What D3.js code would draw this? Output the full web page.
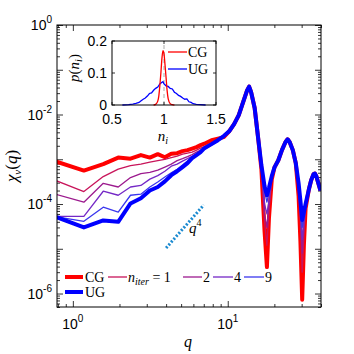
<!DOCTYPE html>
<html>
<head>
<meta charset="utf-8">
<script src="https://cdn.jsdelivr.net/npm/d3@7"></script>
<style>
  body { margin: 0; background: #fff; }
  text { fill: #000; }
</style>
</head>
<body>
<div id="chart"></div>
<script>
// wavenumbers q (shared by every curve)
const qVals = [0.785, 1.178, 1.571, 1.963, 2.356, 2.749, 3.142, 3.534, 3.927, 4.320,
  4.712, 5.105, 5.498, 5.890, 6.283, 6.676, 7.069, 7.854, 8.639, 9.425,
  10.21, 10.99, 11.78, 12.57, 13.35, 13.74, 14.14, 14.92, 15.71, 16.49,
  17.28, 17.90, 18.46, 19.24, 20.03, 21.21, 22.38, 23.56, 24.35, 25.13,
  26.31, 27.49, 28.67, 29.45, 30.24, 31.02, 31.81, 33.38, 34.56, 35.74,
  36.52, 37.31, 38.48, 39.66];

// chi_v(q) for CG, the iterations, and UG
const chiCG = [8.8e-4, 5.6e-4, 7.8e-4, 1.09e-3, 1.03e-3, 1.24e-3, 1.09e-3, 1.30e-3, 1.11e-3, 1.33e-3,
  1.37e-3, 1.52e-3, 1.60e-3, 1.73e-3, 1.87e-3, 2.07e-3, 2.23e-3, 2.67e-3, 2.89e-3, 3.12e-3,
  4.2e-3, 6.1e-3, 9.7e-3, 1.9e-2, 3.5e-2, 4.2e-2, 3.2e-2, 1.4e-2, 3.0e-3, 6.0e-4,
  2.5e-5, 3.9e-6, 5.0e-5, 3.5e-4, 6.6e-4, 9.5e-4, 1.6e-3, 2.4e-3, 2.8e-3, 2.4e-3,
  1.6e-3, 8.2e-4, 1.5e-4, 1.5e-5, 7.3e-7, 1.2e-5, 8.0e-5, 2.1e-4, 3.4e-4, 4.6e-4,
  4.8e-4, 4.2e-4, 2.9e-4, 2.0e-4];
const chiIter1 = [3.3e-4, 1.9e-4, 4.1e-4, 6.0e-4, 7.2e-4, 7.8e-4, 8.6e-4, 9.3e-4, 1.0e-3, 1.09e-3,
  1.17e-3, 1.30e-3, 1.37e-3, 1.44e-3, 1.60e-3, 1.77e-3, 1.91e-3, 2.29e-3, 2.67e-3, 3.12e-3,
  4.2e-3, 6.1e-3, 9.7e-3, 1.9e-2, 3.5e-2, 4.2e-2, 3.2e-2, 1.4e-2, 3.0e-3, 6.5e-4,
  4.0e-5, 1.2e-5, 7.0e-5, 3.7e-4, 6.6e-4, 9.5e-4, 1.6e-3, 2.4e-3, 2.8e-3, 2.4e-3,
  1.6e-3, 8.2e-4, 2.0e-4, 4.0e-5, 3.0e-6, 2.0e-5, 8.5e-5, 2.1e-4, 3.4e-4, 4.6e-4,
  4.8e-4, 4.2e-4, 2.9e-4, 2.0e-4];
const chiIter2 = [1.63e-4, 1.10e-4, 2.9e-4, 2.4e-4, 3.9e-4, 4.8e-4, 5.1e-4, 5.7e-4, 6.7e-4, 7.8e-4,
  9.3e-4, 1.03e-3, 1.14e-3, 1.27e-3, 1.44e-3, 1.60e-3, 1.77e-3, 2.18e-3, 2.61e-3, 3.12e-3,
  4.2e-3, 6.1e-3, 9.7e-3, 1.9e-2, 3.5e-2, 4.2e-2, 3.2e-2, 1.4e-2, 3.0e-3, 7.0e-4,
  6.0e-5, 3.0e-5, 9.0e-5, 3.8e-4, 6.6e-4, 9.5e-4, 1.6e-3, 2.4e-3, 2.8e-3, 2.4e-3,
  1.6e-3, 8.2e-4, 2.3e-4, 6.0e-5, 8.0e-6, 3.0e-5, 9.0e-5, 2.1e-4, 3.4e-4, 4.6e-4,
  4.8e-4, 4.2e-4, 2.9e-4, 2.0e-4];
const chiIter4 = [5.3e-5, 5.3e-5, 1.93e-4, 1.57e-4, 2.4e-4, 2.6e-4, 3.6e-4, 4.3e-4, 5.4e-4, 7.0e-4,
  7.8e-4, 9.1e-4, 1.03e-3, 1.17e-3, 1.33e-3, 1.52e-3, 1.68e-3, 2.07e-3, 2.54e-3, 3.12e-3,
  4.2e-3, 6.1e-3, 9.7e-3, 1.9e-2, 3.5e-2, 4.2e-2, 3.2e-2, 1.4e-2, 3.0e-3, 7.2e-4,
  1.0e-4, 6.0e-5, 1.2e-4, 4.0e-4, 6.6e-4, 9.5e-4, 1.6e-3, 2.4e-3, 2.8e-3, 2.4e-3,
  1.6e-3, 8.2e-4, 2.6e-4, 8.0e-5, 1.6e-5, 4.0e-5, 9.5e-5, 2.1e-4, 3.4e-4, 4.6e-4,
  4.8e-4, 4.2e-4, 2.9e-4, 2.0e-4];
const chiIter9 = [5.2e-5, 4.1e-5, 8.5e-5, 6.6e-5, 1.57e-4, 1.66e-4, 2.4e-4, 3.1e-4, 4.0e-4, 5.0e-4,
  6.0e-4, 7.4e-4, 9.1e-4, 1.11e-3, 1.30e-3, 1.48e-3, 1.77e-3, 2.18e-3, 2.67e-3, 3.29e-3,
  4.2e-3, 6.1e-3, 9.7e-3, 1.9e-2, 3.5e-2, 4.2e-2, 3.2e-2, 1.4e-2, 3.0e-3, 7.3e-4,
  2.0e-4, 1.1e-4, 1.8e-4, 4.1e-4, 6.6e-4, 9.5e-4, 1.6e-3, 2.4e-3, 2.8e-3, 2.4e-3,
  1.6e-3, 8.2e-4, 2.8e-4, 1.0e-4, 3.0e-5, 5.5e-5, 1.0e-4, 2.1e-4, 3.4e-4, 4.6e-4,
  4.8e-4, 4.2e-4, 2.9e-4, 2.0e-4];
const chiUG = [5.1e-5, 3.0e-5, 4.3e-5, 4.0e-5, 1.03e-4, 1.35e-4, 2.0e-4, 2.4e-4, 3.2e-4, 4.4e-4,
  5.4e-4, 6.7e-4, 8.2e-4, 1.06e-3, 1.24e-3, 1.44e-3, 1.77e-3, 2.18e-3, 2.67e-3, 3.29e-3,
  4.2e-3, 6.1e-3, 9.7e-3, 1.9e-2, 3.5e-2, 4.2e-2, 3.2e-2, 1.4e-2, 3.0e-3, 7.4e-4,
  2.5e-4, 1.57e-4, 2.3e-4, 4.2e-4, 6.6e-4, 9.5e-4, 1.6e-3, 2.4e-3, 2.8e-3, 2.4e-3,
  1.6e-3, 8.2e-4, 2.9e-4, 1.2e-4, 4.4e-5, 6.6e-5, 1.0e-4, 2.1e-4, 3.4e-4, 4.6e-4,
  4.8e-4, 4.2e-4, 2.9e-4, 2.0e-4];

// q^4 guide
const guideQ = [4.0, 7.0];
const guideChi = [1.04e-5, 9.5e-5];

// inset: distribution p(n_i)
const niCG = [0.90, 0.92, 0.94, 0.95, 0.96, 0.97, 0.98, 0.99, 1.00, 1.01, 1.02, 1.03, 1.04, 1.06, 1.08, 1.10];
const pCG = [0, 0.002, 0.012, 0.028, 0.06, 0.10, 0.145, 0.17, 0.16, 0.125, 0.085, 0.045, 0.02, 0.004, 0.001, 0];
const niUG = [0.60, 0.66, 0.70, 0.73, 0.76, 0.78, 0.80, 0.82, 0.84, 0.86, 0.88, 0.90, 0.92, 0.94, 0.96,
  0.98, 0.99, 1.00, 1.02, 1.04, 1.06, 1.08, 1.10, 1.12, 1.14, 1.16, 1.18, 1.20, 1.22, 1.24, 1.26,
  1.28, 1.31, 1.35, 1.40];
const pUG = [0, 0.001, 0.003, 0.005, 0.008, 0.013, 0.018, 0.022, 0.028, 0.036, 0.038, 0.046, 0.052, 0.056, 0.066,
  0.071, 0.073, 0.066, 0.060, 0.058, 0.052, 0.050, 0.040, 0.036, 0.030, 0.027, 0.022, 0.018, 0.019, 0.010, 0.008,
  0.004, 0.002, 0.001, 0];

// ticks / labels
const xMajor = [1, 10];
const yMajor = [1e-6, 1e-5, 1e-4, 1e-3, 1e-2, 1e-1, 1];
const yLabelled = [1e-6, 1e-4, 1e-2, 1];
const insetXTicks = [0.5, 1, 1.5];
const insetYTicks = [0, 0.1, 0.2];
const legendNames = ["CG", "UG", "1", "2", "4", "9"];

const W = 354, H = 354;
const L = 57, T = 25, R = 321, B = 307;
const SANS = "'Liberation Sans', Arial, sans-serif";
const SERIF = "'Liberation Serif', 'Times New Roman', serif";

const svg = d3.select("#chart").append("svg")
  .attr("width", W).attr("height", H)
  .style("font-family", SANS);

const x = d3.scaleLog().domain([0.79, 40]).range([L, R]);
const y = d3.scaleLog().domain([5e-7, 1]).range([B, T]);

// minor log ticks
const minors = (lo, hi) => {
  const out = [];
  for (let e = Math.floor(Math.log10(lo)); e <= Math.ceil(Math.log10(hi)); e++)
    for (let k = 2; k <= 9; k++) {
      const v = k * Math.pow(10, e);
      if (v >= lo && v <= hi) out.push(v);
    }
  return out;
};
const xMinor = minors(0.79, 40);
const yMinor = minors(5e-7, 1);

function tickSet(axisGen, vals, len, tr) {
  const g = svg.append("g").attr("transform", tr)
    .call(axisGen.tickValues(vals).tickSize(-len).tickSizeOuter(0).tickFormat(""));
  g.select(".domain").remove();
  g.selectAll("line").attr("stroke", "#000").attr("stroke-width", 0.8);
}
tickSet(d3.axisBottom(x), xMajor, 6, `translate(0,${B})`);
tickSet(d3.axisBottom(x), xMinor, 3, `translate(0,${B})`);
tickSet(d3.axisTop(x), xMajor, 6, `translate(0,${T})`);
tickSet(d3.axisTop(x), xMinor, 3, `translate(0,${T})`);
tickSet(d3.axisLeft(y), yMajor, 6, `translate(${L},0)`);
tickSet(d3.axisLeft(y), yMinor, 3, `translate(${L},0)`);
tickSet(d3.axisRight(y), yMajor, 6, `translate(${R},0)`);
tickSet(d3.axisRight(y), yMinor, 3, `translate(${R},0)`);

// curves
svg.append("clipPath").attr("id", "clip")
  .append("rect").attr("x", L).attr("y", T).attr("width", R - L).attr("height", B - T);

const series = [
  { vals: chiCG, color: "#ff0000", w: 4 },
  { vals: chiIter1, color: "#c8145a", w: 1.3 },
  { vals: chiIter2, color: "#9c1a8e", w: 1.3 },
  { vals: chiIter4, color: "#7428c6", w: 1.3 },
  { vals: chiIter9, color: "#3a36ee", w: 1.3 },
  { vals: chiUG, color: "#0000ff", w: 4 }
];
const line = d3.line().x(d => x(d[0])).y(d => y(d[1]));
const plot = svg.append("g").attr("clip-path", "url(#clip)");
series.forEach(s => {
  plot.append("path")
    .datum(qVals.map((q, i) => [q, s.vals[i]]))
    .attr("fill", "none")
    .attr("stroke", s.color)
    .attr("stroke-width", s.w)
    .attr("stroke-linejoin", "round")
    .attr("d", line);
});

// q^4 guide
plot.append("path")
  .datum(guideQ.map((q, i) => [q, guideChi[i]]))
  .attr("fill", "none")
  .attr("stroke", "#1a8ad0")
  .attr("stroke-width", 3)
  .attr("stroke-dasharray", "2,1.8")
  .attr("d", line);
const q4 = svg.append("text").attr("x", 189).attr("y", 233)
  .style("font-family", SERIF).style("font-size", "15px");
q4.append("tspan").style("font-style", "italic").text("q");
q4.append("tspan").attr("dy", -7).style("font-size", "10px").text("4");

// box
svg.append("rect").attr("x", L).attr("y", T).attr("width", R - L).attr("height", B - T)
  .attr("fill", "none").attr("stroke", "#000").attr("stroke-width", 1);

// tick labels
yLabelled.forEach(v => {
  const t = svg.append("text").attr("x", 52).attr("y", y(v) + 5)
    .attr("text-anchor", "end").style("font-size", "14px");
  t.append("tspan").text("10");
  t.append("tspan").attr("dy", -7).style("font-size", "10px").text(Math.round(Math.log10(v)));
});
xMajor.forEach(v => {
  const t = svg.append("text").attr("x", x(v)).attr("y", 329)
    .attr("text-anchor", "middle").style("font-size", "14px");
  t.append("tspan").text("10");
  t.append("tspan").attr("dy", -7).style("font-size", "10px").text(Math.round(Math.log10(v)));
});

// axis labels
svg.append("text").attr("x", 188).attr("y", 347).attr("text-anchor", "middle")
  .style("font-family", SERIF).style("font-style", "italic").style("font-size", "16px").text("q");
const yl = svg.append("text").attr("transform", "translate(17,166) rotate(-90)")
  .attr("text-anchor", "middle").style("font-family", SERIF).style("font-size", "17px");
yl.append("tspan").style("font-style", "italic").text("χ");
yl.append("tspan").attr("dy", 4).style("font-style", "italic").style("font-size", "11px").text("v");
yl.append("tspan").attr("dy", -4).text("(");
yl.append("tspan").style("font-style", "italic").text("q");
yl.append("tspan").text(")");

// legend
const leg = svg.append("g").style("font-family", SERIF).style("font-size", "14px");
function legLine(x1, x2, yy, s) {
  leg.append("line").attr("x1", x1).attr("x2", x2).attr("y1", yy).attr("y2", yy)
    .attr("stroke", s.color).attr("stroke-width", s.w);
}
legLine(65, 83, 277, series[0]);
leg.append("text").attr("x", 85).attr("y", 282).text(legendNames[0]);
legLine(65, 83, 292, series[5]);
leg.append("text").attr("x", 85).attr("y", 297).text(legendNames[1]);
legLine(108, 127, 277, series[1]);
const nl = leg.append("text").attr("x", 128).attr("y", 282);
nl.append("tspan").style("font-style", "italic").text("n");
nl.append("tspan").attr("dy", 3).style("font-style", "italic").style("font-size", "10px").text("iter");
nl.append("tspan").attr("dy", -3).text(" = " + legendNames[2]);
[[183, 202, 2], [213, 233, 3], [244, 264, 4]].forEach(([a, b, k]) => {
  legLine(a, b, 277, series[k]);
  leg.append("text").attr("x", b + 1).attr("y", 282).text(legendNames[k + 1]);
});

// ---------- inset ----------
const iL = 112, iR = 216, iT = 41, iB = 105;
const ix = d3.scaleLinear().domain([0.5, 1.5]).range([iL, iR]);
const iy = d3.scaleLinear().domain([0, 0.2]).range([iB, iT]);
const inset = svg.append("g");
inset.append("rect").attr("x", iL).attr("y", iT).attr("width", iR - iL).attr("height", iB - iT)
  .attr("fill", "#fff");
inset.append("line").attr("x1", ix(1)).attr("x2", ix(1)).attr("y1", iB).attr("y2", iT)
  .attr("stroke", "#c8c8c8").attr("stroke-width", 1.5).attr("stroke-dasharray", "4,3");
const iline = d3.line().x(d => ix(d[0])).y(d => iy(d[1]));
inset.append("path").datum(niUG.map((n, i) => [n, pUG[i]]))
  .attr("fill", "none").attr("stroke", "#0000ff").attr("stroke-width", 1.3).attr("d", iline);
inset.append("path").datum(niCG.map((n, i) => [n, pCG[i]]))
  .attr("fill", "none").attr("stroke", "#ff0000").attr("stroke-width", 1.3)
  .attr("d", iline.curve(d3.curveMonotoneX));

insetXTicks.forEach(v => {
  inset.append("line").attr("x1", ix(v)).attr("x2", ix(v)).attr("y1", iB).attr("y2", iB - 3)
    .attr("stroke", "#000").attr("stroke-width", 0.8);
  inset.append("line").attr("x1", ix(v)).attr("x2", ix(v)).attr("y1", iT).attr("y2", iT + 3)
    .attr("stroke", "#000").attr("stroke-width", 0.8);
  inset.append("text").attr("x", ix(v)).attr("y", 124).attr("text-anchor", "middle")
    .style("font-size", "14px").text(v);
});
insetYTicks.forEach(v => {
  inset.append("line").attr("x1", iL).attr("x2", iL + 3).attr("y1", iy(v)).attr("y2", iy(v))
    .attr("stroke", "#000").attr("stroke-width", 0.8);
  inset.append("line").attr("x1", iR).attr("x2", iR - 3).attr("y1", iy(v)).attr("y2", iy(v))
    .attr("stroke", "#000").attr("stroke-width", 0.8);
  inset.append("text").attr("x", 107).attr("y", iy(v) + 5).attr("text-anchor", "end")
    .style("font-size", "14px").text(v);
});
inset.append("rect").attr("x", iL).attr("y", iT).attr("width", iR - iL).attr("height", iB - iT)
  .attr("fill", "none").attr("stroke", "#000").attr("stroke-width", 1);

// inset legend
[["#ff0000", 52, "CG"], ["#0000ff", 69, "UG"]].forEach(([c, yy, name]) => {
  inset.append("line").attr("x1", 168).attr("x2", 187).attr("y1", yy).attr("y2", yy)
    .attr("stroke", c).attr("stroke-width", 1.3);
  inset.append("text").attr("x", 188).attr("y", yy + 5)
    .style("font-family", SERIF).style("font-size", "14px").text(name);
});

// inset axis labels
const px = inset.append("text").attr("x", 163).attr("y", 141).attr("text-anchor", "middle")
  .style("font-family", SERIF).style("font-size", "15px");
px.append("tspan").style("font-style", "italic").text("n");
px.append("tspan").attr("dy", 3).style("font-style", "italic").style("font-size", "10px").text("i");
const py = inset.append("text").attr("transform", "translate(79,68) rotate(-90)")
  .attr("text-anchor", "middle").style("font-family", SERIF).style("font-size", "15px");
py.append("tspan").style("font-style", "italic").text("p");
py.append("tspan").text("(");
py.append("tspan").style("font-style", "italic").text("n");
py.append("tspan").attr("dy", 3).style("font-style", "italic").style("font-size", "10px").text("i");
py.append("tspan").attr("dy", -3).text(")");
</script>
</body>
</html>
